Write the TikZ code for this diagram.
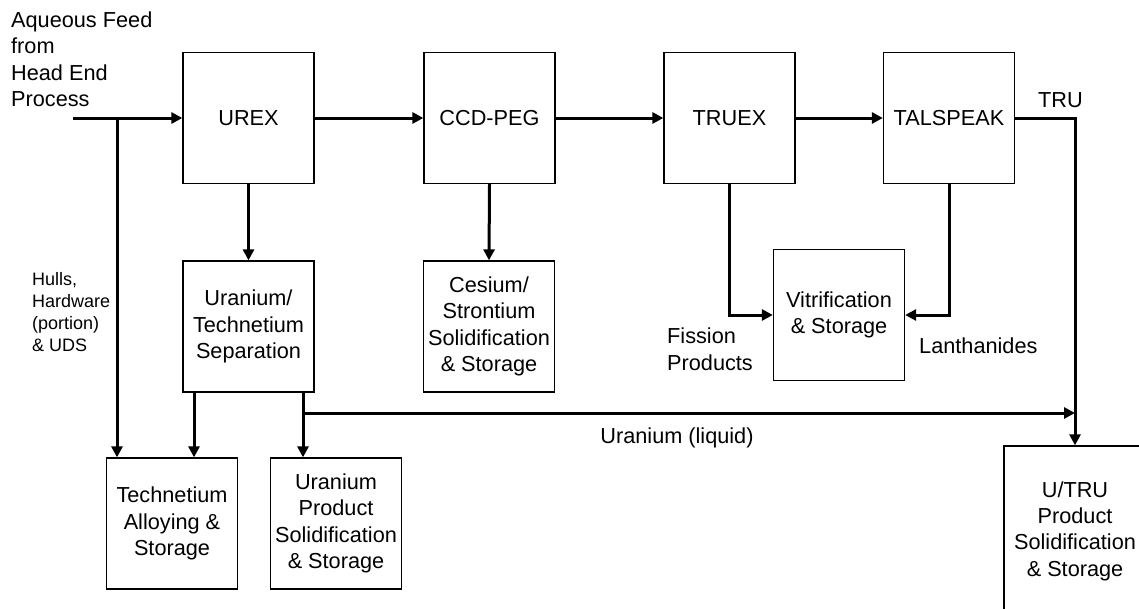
\documentclass[tikz,border=0pt]{standalone}
\usepackage{fontspec}
\setmainfont{Liberation Sans}
\usetikzlibrary{arrows.meta}
\begin{document}
\begin{tikzpicture}[x=1pt,y=-1pt,
  box/.style={draw,line width=1.3pt,minimum width=131pt,minimum height=131pt,inner sep=0pt,align=center,
    font=\fontsize{21.7}{26.3}\selectfont},
  arr/.style={line width=3pt,-{Triangle[length=11pt,width=11pt]}},
  lbl/.style={inner sep=0pt,align=left,font=\fontsize{21.7}{26.3}\selectfont},
  small/.style={inner sep=0pt,align=left,font=\fontsize{18}{22}\selectfont}]
\useasboundingbox (0,0) rectangle (1139,608);
% boxes
\node[box] (urex) at (248.5,118) {UREX};
\node[box] (ccd) at (489.5,118) {CCD-PEG};
\node[box] (truex) at (729.5,118) {TRUEX};
\node[box] (tal) at (949,118) {TALSPEAK};
\node[box] (sep) at (248.5,326.5) {Uranium/\\Technetium\\Separation};
\node[box] (cs) at (489,326.5) {Cesium/\\Strontium\\Solidification\\\& Storage};
\node[box] (vit) at (839,315) {Vitrification\\\& Storage};
\node[box] (tc) at (172,523.5) {Technetium\\Alloying \&\\Storage};
\node[box] (up) at (336,523.5) {Uranium\\Product\\Solidification\\\& Storage};
\node[box,minimum width=142pt,minimum height=170pt] (utru) at (1075,531) {U/TRU\\Product\\Solidification\\\& Storage};
% coordinates
\coordinate (feed) at (73,118);
\coordinate (b1) at (117,118);
\coordinate (truc) at (1075,118);
\coordinate (uj) at (303,413);
% connectors
\draw[arr] (feed) -- (urex.west);
\draw[arr] (b1) -- (b1 |- tc.north);
\draw[arr] (urex.east) -- (ccd.west);
\draw[arr] (ccd.east) -- (truex.west);
\draw[arr] (truex.east) -- (tal.west);
\draw[arr] (tal.east) -- (truc) -- (utru.north);
\draw[arr] (urex.south) -- (sep.north);
\draw[arr] (ccd.south) -- (cs.north);
\draw[arr] (truex.south) |- (vit.west);
\draw[arr] (tal.south) |- (vit.east);
\draw[arr] ([xshift=-54.5pt]sep.south) -- ([xshift=-54.5pt]sep.south |- tc.north);
\draw[arr] ([xshift=54.5pt]sep.south) -- ([xshift=54.5pt]sep.south |- up.north);
\draw[arr] (uj) -- (truc |- uj);
% labels
\node[lbl,anchor=north west] (feedlbl) at (11,11.5) {Aqueous Feed\\from\\Head End\\Process};
\node[small,anchor=north west] (hulls) at (32,272.5) {Hulls,\\Hardware\\(portion)\\\& UDS};
\node[lbl,anchor=north west] (fp) at (667,328) {Fission\\Products};
\node[lbl,anchor=base west] (lan) at (919,353) {Lanthanides};
\node[lbl,anchor=base west] (tru) at (1038,107) {TRU};
\node[lbl,anchor=base] (ul) at (677,443) {Uranium (liquid)};
\end{tikzpicture}
\end{document}
